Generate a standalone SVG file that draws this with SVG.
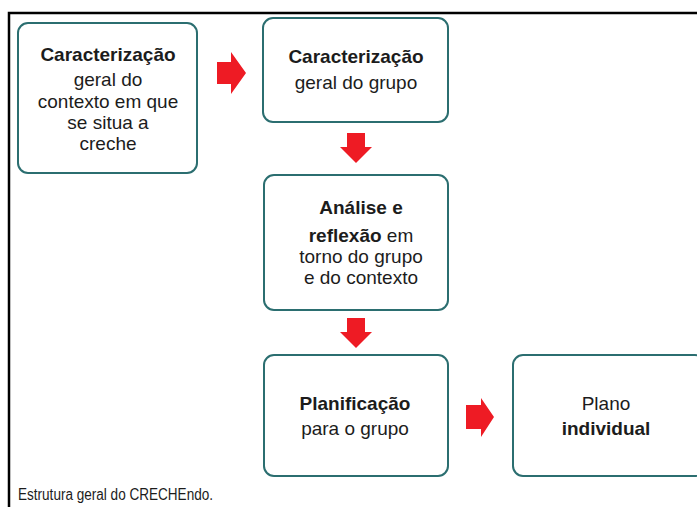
<svg xmlns="http://www.w3.org/2000/svg" width="697" height="507" viewBox="0 0 697 507">
<style>
.box{fill:#ffffff;stroke:#2b6e70;stroke-width:2}
.t{font-family:"Liberation Sans",Arial,sans-serif;font-size:19px;fill:#1c1c1c;text-anchor:middle}
.b{font-weight:bold}
.arr{fill:#ee1b24}
.frame{stroke:#000;stroke-width:2.5;fill:none}
.cap{font-family:"Liberation Sans",Arial,sans-serif;font-size:16px;fill:#1c1c1c}
</style>
<rect x="0" y="0" width="697" height="507" fill="#ffffff"/>
<path class="frame" d="M9,507 V13 H697"/>
<g id="connectors">
<polygon class="arr" points="217,62 231,62 231,52 246,73 231,94 231,84 217,84"/>
<polygon class="arr" points="347,133 365,133 365,147 372,147 356,163 340,147 347,147"/>
<polygon class="arr" points="347,318 365,318 365,332 372,332 356,348 340,332 347,332"/>
<polygon class="arr" points="466,405 481,405 481,398 494,417 481,437 481,429 466,429"/>
</g>
<g id="n1">
<rect class="box" x="18" y="23" width="179" height="150" rx="10"/>
<text class="t b" x="108" y="61">Caracterização</text>
<text class="t" x="108" y="86">geral do</text>
<text class="t" x="108" y="108">contexto em que</text>
<text class="t" x="108" y="129">se situa a</text>
<text class="t" x="108" y="150">creche</text>
</g>
<g id="n2">
<rect class="box" x="263" y="18" width="185" height="104" rx="10"/>
<text class="t b" x="356" y="63">Caracterização</text>
<text class="t" x="356" y="89">geral do grupo</text>
</g>
<g id="n3">
<rect class="box" x="264" y="175" width="184" height="135" rx="10"/>
<text class="t b" x="361" y="214">Análise e</text>
<text class="t" x="361" y="242"><tspan class="b">reflexão</tspan> em</text>
<text class="t" x="361" y="263">torno do grupo</text>
<text class="t" x="361" y="284">e do contexto</text>
</g>
<g id="n4">
<rect class="box" x="264" y="355" width="184" height="121" rx="10"/>
<text class="t b" x="355" y="410">Planificação</text>
<text class="t" x="355" y="435">para o grupo</text>
</g>
<g id="n5">
<rect class="box" x="513" y="355" width="192" height="121" rx="10"/>
<text class="t" x="606" y="410">Plano</text>
<text class="t b" x="606" y="435">individual</text>
</g>
<text class="cap" x="18" y="500" textLength="195" lengthAdjust="spacingAndGlyphs">Estrutura geral do CRECHEndo.</text>
</svg>
